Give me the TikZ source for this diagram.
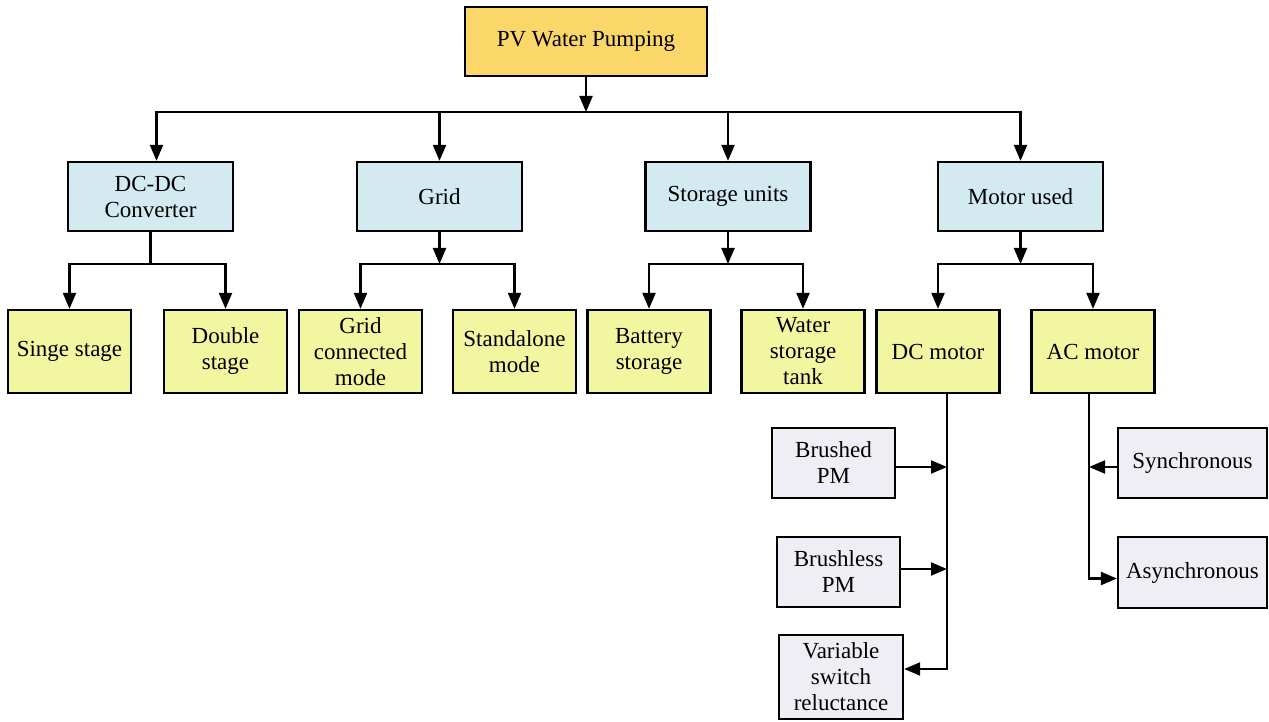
\documentclass[tikz,border=0pt]{standalone}
\usepackage{fontspec}
\setmainfont{Liberation Serif}
\usetikzlibrary{arrows.meta}
\definecolor{rootfill}{RGB}{251,215,106}
\definecolor{catfill}{RGB}{211,234,240}
\definecolor{subfill}{RGB}{242,246,161}
\definecolor{leaffill}{RGB}{239,238,244}
\tikzset{
  box/.style={draw=black, line width=2.3pt, inner sep=0pt, align=center,
    font=\fontsize{23}{26}\selectfont},
  rootbox/.style={box, fill=rootfill, minimum width=242pt, minimum height=69pt},
  catbox/.style={box, fill=catfill, minimum width=165pt, minimum height=69pt},
  subbox/.style={box, fill=subfill, minimum width=123pt, minimum height=83pt},
  leafbox/.style={box, fill=leaffill, minimum width=123pt, minimum height=70pt},
  arr/.style={line width=2.2pt, -{Triangle[length=16pt,width=13pt]}},
  wire/.style={line width=2.2pt}
}
\begin{document}
\begin{tikzpicture}[x=1pt, y=-1pt, line join=miter]
\useasboundingbox (0,0) rectangle (1269,722);
\clip (0,0) rectangle (1269,722);

% root
\node[rootbox] (pv) at (586,41.5) {PV Water Pumping};

% categories
\node[catbox] (dcdc)  at (150.5,196.5) {DC-DC\\Converter};
\node[catbox] (grid)  at (439.5,196.5) {Grid};
\node[catbox] (stor)  at (728,196.5)   {Storage units};
\node[catbox] (motor) at (1020.5,196.5) {Motor used};

% sub-categories
\node[subbox] (singe)  at (69.5,351.5)  {Singe stage};
\node[subbox] (double) at (225.5,351.5) {Double\\stage};
\node[subbox] (gconn)  at (360.5,351.5) {Grid\\connected\\mode};
\node[subbox] (stand)  at (514.5,351.5) {Standalone\\mode};
\node[subbox] (batt)   at (649,351.5)   {Battery\\storage};
\node[subbox] (water)  at (803,351.5)   {Water\\storage\\tank};
\node[subbox] (dcm)    at (938,351.5)   {DC motor};
\node[subbox] (acm)    at (1093,351.5)  {AC motor};

% motor types
\node[leafbox] (brushed)   at (833.5,463) {Brushed\\PM};
\node[leafbox] (brushless) at (838.5,572) {Brushless\\PM};
\node[leafbox, minimum width=124pt, minimum height=84pt] (var) at (841,677) {Variable\\switch\\reluctance};
\node[leafbox, minimum width=149pt] (sync)  at (1192.5,463)   {Synchronous};
\node[leafbox, minimum width=149pt, minimum height=71pt] (async) at (1192.5,572.5) {Asynchronous};

% main bus
\coordinate (bus) at (586,112);
\draw[arr] (pv.south) -- (bus);
\coordinate (dcin) at ([xshift=6pt]dcdc.north);
\draw[arr] (bus) -| (dcin);
\draw[arr] (bus) -| (grid.north);
\draw[arr] (bus) -| (stor.north);
\draw[arr] (bus) -| (motor.north);

% category branches
\coordinate (dcbus) at (150.5,264);
\draw[wire] (dcdc.south) -- (dcbus);
\draw[arr] (dcbus) -| (singe.north);
\draw[arr] (dcbus) -| (double.north);

\coordinate (gbus) at (439.5,264);
\draw[arr] (grid.south) -- (gbus);
\draw[arr] (gbus) -| (gconn.north);
\draw[arr] (gbus) -| (stand.north);

\coordinate (sbus) at (728,264);
\draw[arr] (stor.south) -- (sbus);
\draw[arr] (sbus) -| (batt.north);
\draw[arr] (sbus) -| (water.north);

\coordinate (mbus) at (1020.5,264);
\draw[arr] (motor.south) -- (mbus);
\draw[arr] (mbus) -| (dcm.north);
\draw[arr] (mbus) -| (acm.north);

% DC motor types
\coordinate (dct) at ([xshift=9pt]dcm.south);
\draw[arr] (dct) |- ([yshift=8pt]var.east);
\draw[arr] ([yshift=-4pt]brushed.east) -- ([yshift=-4pt]brushed.east -| dct);
\draw[arr] ([yshift=3pt]brushless.east) -- ([yshift=3pt]brushless.east -| dct);

% AC motor types
\coordinate (act) at ([xshift=-4pt]acm.south);
\draw[arr] (act) |- ([yshift=-6pt]async.west);
\draw[arr] ([yshift=-4pt]sync.west) -- ([yshift=-4pt]sync.west -| act);
\end{tikzpicture}
\end{document}
